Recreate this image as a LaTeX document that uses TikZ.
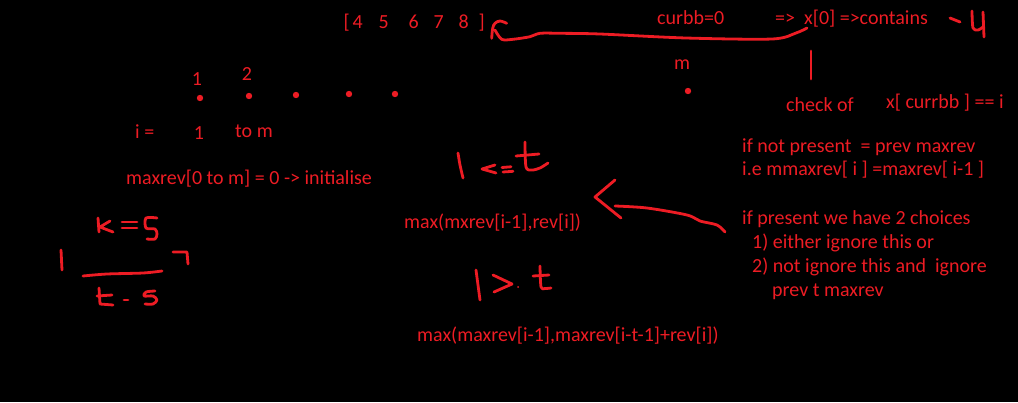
\documentclass[tikz,border=0pt]{standalone}
\usepackage{fontspec}
\setmainfont{Carlito}
\definecolor{pen}{HTML}{ED1C24}
\newcommand\putat[2]{\makebox[0pt][l]{\hspace{#1pt}#2}}
\begin{document}
\begin{tikzpicture}[x=1pt,y=-1pt,
  txt/.style={text=pen, font=\fontsize{20}{24}\selectfont, inner sep=0pt, anchor=base west},
  ctxt/.style={txt, anchor=base},
  ink/.style={draw=pen, line width=2.8pt, line cap=round, line join=round},
  dotmark/.style={fill=pen}]
\useasboundingbox (0,0) rectangle (1018,402);
\fill[black] (0,0) rectangle (1018,402);

% ---- top row texts
\node[txt] (arr) at (343,28) {\putat{0}{[}\putat{9}{4}\putat{35}{5}\putat{65}{6}\putat{90}{7}\putat{115}{8}\putat{135}{]}\hspace{140pt}};
\node[txt] (curbb) at (657,24) {curbb=0};
\node[txt] (impl) at (775,24) {=>};
\node[txt] (xzero) at (804,24) {x[0] =>contains};
\node[ctxt] (mlab) at (682,69) {m};
\node[txt] (check) at (786,111) {check of};
\node[txt] (xcur) at (886,108) {x[ currbb ] == i};

% ---- index row
\node[ctxt] (one) at (197,85) {1};
\node[ctxt] (two) at (247,80) {2};
\fill[dotmark] (200,98) circle (3.2);
\fill[dotmark] (249,96) circle (3.2);
\fill[dotmark] (296,95) circle (3.2);
\fill[dotmark] (349,94) circle (3.2);
\fill[dotmark] (395,94) circle (3.2);
\fill[dotmark] (688,91) circle (3.2);

\node[txt] (ieq) at (135,138) {i =};
\node[ctxt] (ione) at (199,139) {1};
\node[txt] (tom) at (235,137) {to m};
\node[txt] (init) at (126,184) {maxrev[0 to m] = 0 -> initialise};

% ---- formulas
\node[txt] (f1) at (404,228) {max(mxrev[i-1],rev[i])};
\node[txt] (f2) at (417,341) {max(maxrev[i-1],maxrev[i-t-1]+rev[i])};

% ---- right block
\node[txt] (r1) at (742,152) {if not present\ \ = prev maxrev};
\node[txt] (r2) at (742,175) {i.e mmaxrev[ i ] =maxrev[ i-1 ]};
\node[txt] (r3) at (742,224) {if present we have 2 choices};
\node[txt] (r4) at (752,248) {1) either ignore this or};
\node[txt] (r5) at (752,272) {2) not ignore this and\ \ ignore};
\node[txt] (r6) at (772,296) {prev t maxrev};

% ---- top curved arrow from x[0] to the array
\coordinate (aStart) at (807,28);
\coordinate (aTip) at (495,30);
\draw[ink] plot[smooth, tension=0.5] coordinates {(aStart) (796,33) (772,39) (686,38) (600,34) (560,33.3) (540,33.3) (530,36.7) (513,39.3) (501.7,39.3) (aTip)};
\draw[ink] plot[smooth, tension=0.6] coordinates {(491.7,38.3) (492.7,28.3) (495,23.3) (500,21) (506.7,23.3)};

% ---- "- 4"
\draw[ink] (950,18) -- (960,22);
\draw[ink] plot[smooth, tension=0.5] coordinates {(972,11) (973,28) (978,30) (983,27)};
\draw[ink] (983,12) -- (984,37);

% ---- vertical tick under x[0]
\draw[ink] (811,51) -- (811,79);

% ---- arrow from right block to first formula
\coordinate (bStart) at (725,232);
\coordinate (bEnd) at (615,206);
\draw[ink] plot[smooth, tension=0.5] coordinates {(bStart) (717,225) (700,221) (687,215) (647,208) (bEnd)};
\draw[ink] (615,180) -- (595,197) -- (621,218);

% ---- i<=t
\draw[ink] plot[smooth] coordinates {(458,153) (460,165) (463,178)};
\draw[ink] (495,165) -- (482,169) -- (496,173);
\draw[ink] (502,167.5) -- (511,166.8);
\draw[ink] (503,172) -- (513,171.3);
\draw[ink] plot[smooth, tension=0.5] coordinates {(525,142) (526,167) (532,170) (540,168) (548,163)};
\draw[ink] (516,156) -- (539,154);

% ---- i>t
\draw[ink] plot[smooth] coordinates {(476,270) (478,285) (480,300)};
\draw[ink] (493,275) -- (512,284) -- (494,292);
\fill[dotmark] (518,287) circle (1);
\draw[ink] plot[smooth, tension=0.5] coordinates {(540,266) (541,287) (545,288.5) (551,288)};
\draw[ink] (533,276) -- (549,275);

% ---- t=5
\draw[ink] (98,218) -- (99,232);
\draw[ink] (110,221) -- (100,227) -- (113,232);
\draw[ink] (122,222) -- (137,222);
\draw[ink] (122,228) -- (137,228);
\draw[ink] plot[smooth, tension=0.5] coordinates {(157,218) (146,218) (146,228) (155,229) (157,234) (155,239) (147,239)};

% ---- 1 ____ 7
\draw[ink] (61,250) -- (62,270);
\draw[ink] plot[smooth, tension=0.5] coordinates {(83,276) (107,274) (143,273) (162,271)};
\draw[ink] (173,252) -- (187,252) -- (188,264);

% ---- t-5
\draw[ink] (99,288) -- (100,304) -- (113,305);
\draw[ink] (97,296) -- (112,295);
\draw[ink] (124,300) -- (128,300);
\draw[ink] plot[smooth, tension=0.5] coordinates {(155,291) (146,292) (144,296) (153,296) (157,300) (153,304) (145,304)};
\end{tikzpicture}
\end{document}
